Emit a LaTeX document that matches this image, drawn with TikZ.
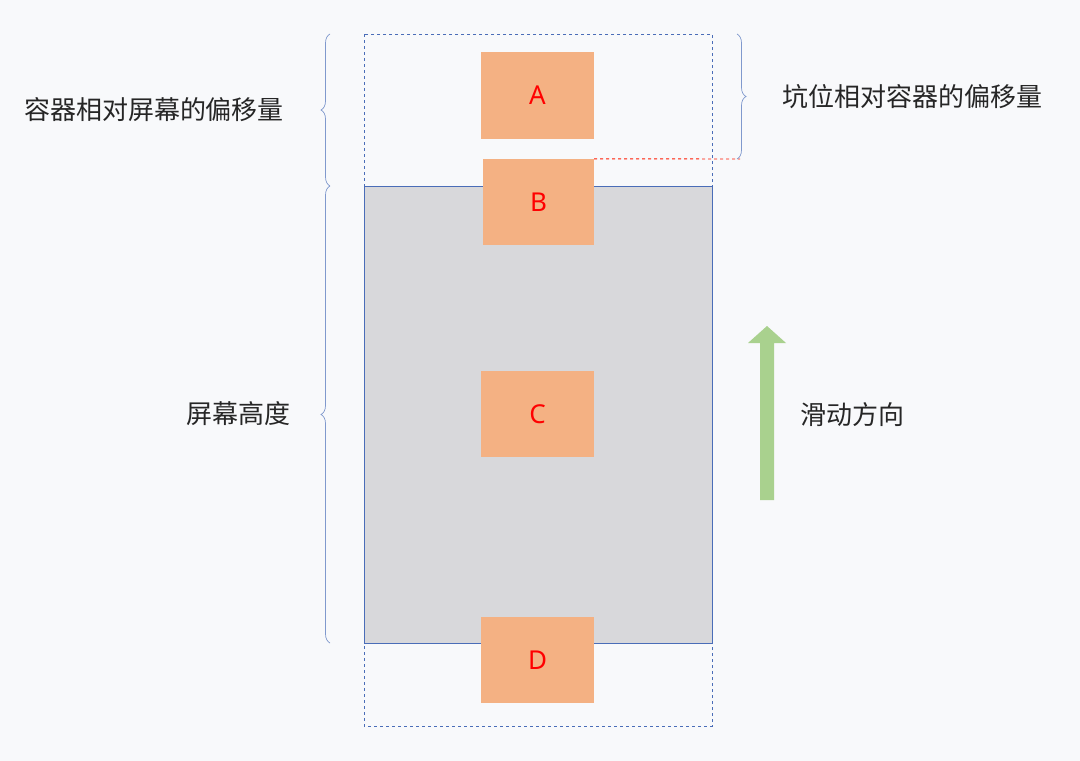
\documentclass[tikz,border=0pt]{standalone}
\usepackage{fontspec}
\setmainfont{Noto Sans}
\newfontfamily\cjk{Noto Sans CJK SC}
\usetikzlibrary{decorations.pathreplacing}
\definecolor{bg}{HTML}{F8F9FB}
\definecolor{blu}{HTML}{4A6DB8}
\definecolor{org}{HTML}{F4B183}
\definecolor{grn}{HTML}{A9D18E}
\definecolor{scr}{HTML}{D8D8DB}
\tikzset{
 box/.style={fill=org,draw=none,text=red,font=\fontsize{26}{26}\selectfont,inner sep=0},
 brc/.style={draw=blu!70,line width=0.7pt,decorate,decoration={brace,amplitude=9pt}},
 lbl/.style={font=\cjk\fontsize{26}{26}\selectfont,text=black!85}
}
\begin{document}
\begin{tikzpicture}[x=1pt,y=-1pt]
\useasboundingbox (0,0) rectangle (1080,761);
\fill[bg] (0,0) rectangle (1080,761);
\draw[blu,dashed,line width=0.9pt] (364,34) rectangle (712,726);
\node (scr) [fill=scr,draw=blu,line width=1pt,minimum width=348pt,minimum height=457pt,inner sep=0] at (538,414.5) {};
\node (A) [box,minimum width=113pt,minimum height=87pt] at (537.5,95.5) {A};
\node (B) [box,minimum width=111pt,minimum height=86pt] at (538.5,202) {B};
\node (C) [box,minimum width=113pt,minimum height=86pt] at (537.5,414) {C};
\node (D) [box,minimum width=113pt,minimum height=86pt] at (537.5,660) {D};
\coordinate (r1) at (740,159);
\draw[red!80!orange,dashed,line width=0.9pt] (B.north east) -- (r1);
\draw[brc] (330,186) -- (330,34);
\draw[brc] (330,643) -- (330,186);
\draw[brc] (737,34) -- (737,159);
\node[lbl] (t1) at (154,110) {容器相对屏幕的偏移量};
\node[lbl] (t2) at (238,414) {屏幕高度};
\node[lbl] (t3) at (912,97) {坑位相对容器的偏移量};
\node[lbl] (t4) at (852,415) {滑动方向};
\fill[grn] (760,500) -- (774,500) -- (774,343) -- (786,343) -- (767,326) -- (748,343) -- (760,343) -- cycle;
\end{tikzpicture}
\end{document}
